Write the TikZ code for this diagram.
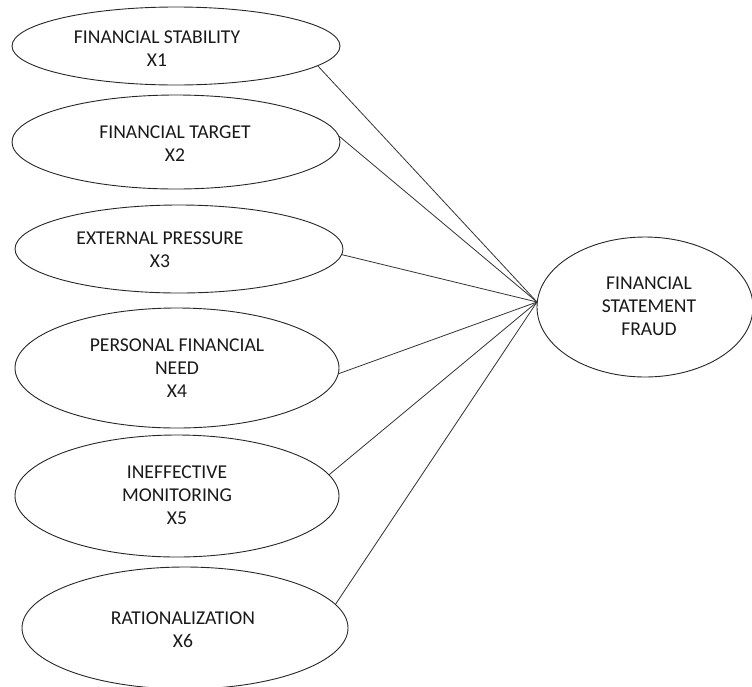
\documentclass[tikz,border=0pt]{standalone}
\usepackage{fontspec}
\setmainfont{Carlito}
\usetikzlibrary{shapes.geometric}
\begin{document}
\begin{tikzpicture}[x=1pt,y=-1pt,
  oval/.style={draw=black!85, line width=0.9pt, ellipse, inner sep=0pt},
  lbl/.style={align=center, font=\fontsize{19.6}{23}\selectfont, inner sep=0pt, text=black!90},
  conn/.style={draw=black!80, line width=0.8pt}]
\useasboundingbox (0,0) rectangle (752,686);
\node[oval, minimum width=328pt, minimum height=78pt] (e1) at (176,46) {};
\node[oval, minimum width=328pt, minimum height=94pt] (e2) at (176,142) {};
\node[oval, minimum width=328pt, minimum height=88pt] (e3) at (179,249) {};
\node[oval, minimum width=324pt, minimum height=120pt] (e4) at (177,368) {};
\node[oval, minimum width=324pt, minimum height=122pt] (e5) at (177,496) {};
\node[oval, minimum width=326pt, minimum height=122pt] (e6) at (185,628) {};
\node[oval, minimum width=216pt, minimum height=140pt] (fsf) at (645,307) {};
\node[lbl] (t1) at (157,48.5) {FINANCIAL STABILITY\\X1};
\node[lbl] (t2) at (175,143.5) {FINANCIAL TARGET\\X2};
\node[lbl] (t3) at (160,250) {EXTERNAL PRESSURE\\X3};
\node[lbl] (t4) at (177,368.5) {PERSONAL FINANCIAL\\NEED\\X4};
\node[lbl] (t5) at (177,495.5) {INEFFECTIVE\\MONITORING\\X5};
\node[lbl] (t6) at (183,630) {RATIONALIZATION\\X6};
\node[lbl] (t7) at (649,306.5) {FINANCIAL\\STATEMENT\\FRAUD};
\coordinate (hub) at (537,302);
\draw[conn] (e1.-8) -- (hub);
\draw[conn] (e2.2) -- (hub);
\draw[conn] (e3.-2) -- (hub);
\draw[conn] (e4.-2.5) -- (hub);
\draw[conn] (e5.8) -- (hub);
\draw[conn] (e6.9) -- (hub);
\end{tikzpicture}
\end{document}
